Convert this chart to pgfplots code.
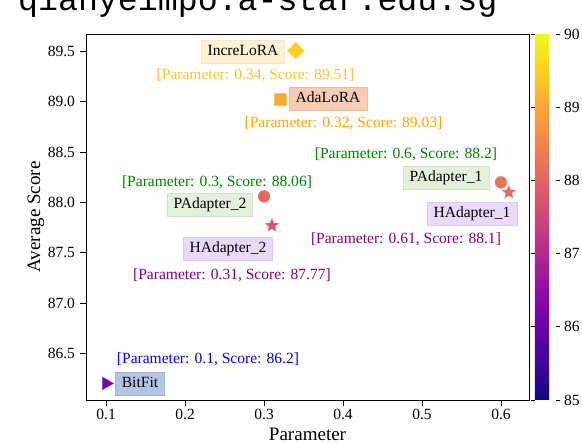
\documentclass[border=0pt]{standalone}
\usepackage{fontspec}
\setmainfont{Liberation Serif}
\newfontfamily\monofont{Liberation Mono}
\usepackage{pgfplots}
\pgfplotsset{compat=1.18}

\definecolor{increfill}{RGB}{253,243,212}
\definecolor{incredraw}{RGB}{250,232,192}
\definecolor{incretext}{RGB}{243,196,52}
\definecolor{adafill}{RGB}{246,204,180}
\definecolor{adadraw}{RGB}{240,186,160}
\definecolor{adatext}{RGB}{255,165,0}
\definecolor{pfill}{RGB}{227,240,219}
\definecolor{pdraw}{RGB}{208,229,198}
\definecolor{ptext}{RGB}{0,128,0}
\definecolor{hfill}{RGB}{233,218,252}
\definecolor{hdraw}{RGB}{220,202,246}
\definecolor{htext}{RGB}{128,0,128}
\definecolor{bfill}{RGB}{178,198,228}
\definecolor{bdraw}{RGB}{160,184,220}
\definecolor{btext}{RGB}{0,0,255}

\pgfplotsset{/pgf/number format/assume math mode=true}

% filled five-pointed star
\pgfdeclareplotmark{fstar}{%
  \pgfpathmoveto{\pgfpointpolar{90}{\pgfplotmarksize}}%
  \pgfpathlineto{\pgfpointpolar{126}{0.45\pgfplotmarksize}}%
  \pgfpathlineto{\pgfpointpolar{162}{\pgfplotmarksize}}%
  \pgfpathlineto{\pgfpointpolar{198}{0.45\pgfplotmarksize}}%
  \pgfpathlineto{\pgfpointpolar{234}{\pgfplotmarksize}}%
  \pgfpathlineto{\pgfpointpolar{270}{0.45\pgfplotmarksize}}%
  \pgfpathlineto{\pgfpointpolar{306}{\pgfplotmarksize}}%
  \pgfpathlineto{\pgfpointpolar{342}{0.45\pgfplotmarksize}}%
  \pgfpathlineto{\pgfpointpolar{18}{\pgfplotmarksize}}%
  \pgfpathlineto{\pgfpointpolar{54}{0.45\pgfplotmarksize}}%
  \pgfpathclose
  \pgfusepathqfillstroke}

\tikzset{
  lbl/.style={font=\fontsize{15.6}{18}\selectfont, text height=11bp,
    text depth=3.5bp, inner xsep=6.5bp, inner ysep=4.5bp, line width=0.8bp},
  ann/.style={font=\fontsize{15.6}{18}\selectfont, text height=11bp,
    text depth=3.5bp, inner sep=0pt},
}

\begin{document}
\begin{tikzpicture}
\useasboundingbox (0,0) rectangle (582bp,444bp);
\node[anchor=base west, inner sep=0pt,
  font=\monofont\fontsize{33.4}{36}\selectfont] at (-22bp,433bp)
  {, qianyeimpo.a-star.edu.sg};

\begin{axis}[
  at={(86bp,44bp)}, anchor=south west,
  scale only axis, width=443bp, height=366bp,
  xmin=0.0745, xmax=0.6355, ymin=86.0345, ymax=89.6755,
  xtick={0.1,0.2,0.3,0.4,0.5,0.6},
  ytick={86.5,87,87.5,88,88.5,89,89.5},
  xticklabel style={/pgf/number format/.cd, fixed, fixed zerofill, precision=1},
  yticklabel style={xshift=-2bp, /pgf/number format/.cd, fixed, fixed zerofill, precision=1},
  tick align=outside, xtick pos=left, ytick pos=left,
  major tick length=5.5bp,
  tick style={black, line width=0.8bp},
  axis line style={line width=0.8bp},
  ticklabel style={font=\fontsize{15.6}{18}\selectfont},
  label style={font=\fontsize{19.1}{22}\selectfont},
  xlabel={Parameter}, ylabel={Average Score},
  xlabel style={at={(axis description cs:0.5,-0.1120)}, anchor=base},
  ylabel style={at={(axis description cs:-0.1038,0.5)}, anchor=base},
  colormap={plasma}{rgb255(0cm)=(13,8,135); rgb255(1cm)=(65,4,157);
    rgb255(2cm)=(106,0,168); rgb255(3cm)=(143,13,164); rgb255(4cm)=(177,42,144);
    rgb255(5cm)=(204,71,120); rgb255(6cm)=(225,100,98); rgb255(7cm)=(242,132,75);
    rgb255(8cm)=(252,166,54); rgb255(9cm)=(252,206,37); rgb255(10cm)=(240,249,33)},
  point meta=y, point meta min=85, point meta max=90,
  colorbar,
  colorbar style={
    at={(1.0135,1)}, anchor=north west,
    scale only axis, width=21.5bp, height=366bp,
    ytick={85,86,87,88,89,90},
    tick align=outside, major tick length=4bp,
    tick style={black, line width=0.8bp},
    axis line style={draw=none},
    yticklabel style={font=\fontsize{15.6}{18}\selectfont},
  },
  scatter/use mapped color={draw=mapped color!75!white, fill=mapped color},
  clip=false,
]
% IncreLoRA
\addplot[scatter, only marks, mark=square*, mark size=6bp,
  mark options={rotate=45}] coordinates {(0.34,89.51)};
% AdaLoRA
\addplot[scatter, only marks, mark=square*, mark size=6bp]
  coordinates {(0.32,89.03)};
% PAdapter_1, PAdapter_2
\addplot[scatter, only marks, mark=*, mark size=6bp]
  coordinates {(0.6,88.2) (0.3,88.06)};
% HAdapter_1, HAdapter_2
\addplot[scatter, only marks, mark=fstar, mark size=7bp]
  coordinates {(0.61,88.1) (0.31,87.77)};
% BitFit
\addplot[scatter, only marks, mark=triangle*, mark size=7.5bp,
  mark options={rotate=-90}] coordinates {(0.1,86.2)};

\node[lbl, fill=increfill, draw=incredraw] at (axis cs:0.2733,89.496) {IncreLoRA};
\node[ann, text=incretext] at (axis cs:0.2892,89.263) {[Parameter: 0.34, Score: 89.51]};
\node[lbl, fill=adafill, draw=adadraw] at (axis cs:0.3810,89.029) {AdaLoRA};
\node[ann, text=adatext] at (axis cs:0.4006,88.780) {[Parameter: 0.32, Score: 89.03]};
\node[lbl, fill=pfill, draw=pdraw] at (axis cs:0.5304,88.243) {PAdapter\_1};
\node[ann, text=ptext] at (axis cs:0.4797,88.472) {[Parameter: 0.6, Score: 88.2]};
\node[lbl, fill=hfill, draw=hdraw] at (axis cs:0.5633,87.885) {HAdapter\_1};
\node[ann, text=htext] at (axis cs:0.4797,87.626) {[Parameter: 0.61, Score: 88.1]};
\node[lbl, fill=pfill, draw=pdraw] at (axis cs:0.2315,87.974) {PAdapter\_2};
\node[ann, text=ptext] at (axis cs:0.2404,88.193) {[Parameter: 0.3, Score: 88.06]};
\node[lbl, fill=hfill, draw=hdraw] at (axis cs:0.2543,87.537) {HAdapter\_2};
\node[ann, text=htext] at (axis cs:0.2594,87.268) {[Parameter: 0.31, Score: 87.77]};
\node[lbl, fill=bfill, draw=bdraw] at (axis cs:0.1429,86.194) {BitFit};
\node[ann, text=btext] at (axis cs:0.2290,86.432) {[Parameter: 0.1, Score: 86.2]};
\end{axis}
\end{tikzpicture}
\end{document}
